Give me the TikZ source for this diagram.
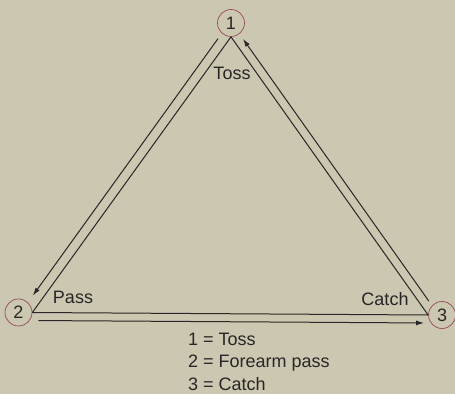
\documentclass[tikz,border=0pt]{standalone}
\usepackage{fontspec}
\setmainfont{Liberation Sans}
\usetikzlibrary{calc,arrows.meta}
\definecolor{bgc}{RGB}{204,199,177}
\definecolor{ringc}{RGB}{150,75,85}
\definecolor{inkc}{RGB}{40,38,38}
\tikzset{
  stn/.style={circle,draw=ringc,line width=0.7pt,minimum size=27pt,inner sep=0pt,text=inkc,font=\fontsize{18}{21}\selectfont},
  lbl/.style={text=inkc,font=\fontsize{18}{21}\selectfont,inner sep=0pt},
  leg/.style={text=inkc,font=\fontsize{18}{21}\selectfont,inner sep=0pt,anchor=base west},
  ln/.style={draw=inkc,line width=1pt},
  arr/.style={ln,-{Latex[length=8pt,width=5pt]}}
}
\begin{document}
\begin{tikzpicture}[x=1pt,y=1pt]
\fill[bgc] (0,0) rectangle (455,394);
\useasboundingbox (0,0) rectangle (455,394);
\node[stn] (n1) at (231,371) {1};
\node[stn] (n2) at (18.5,81.5) {2};
\node[stn] (n3) at (442,79) {3};
% inner triangle lines
\draw[ln] (n1.south) -- (n2.east);
\draw[ln] (n1.south) -- (n3.west);
\draw[ln] (n2.east) -- (n3.west);
% outer left arrow 1 -> 2
\coordinate (a1) at ($(n1.south)!9pt!(n2.east)$);
\coordinate (L1) at ($(a1)!9.5pt!-90:(n2.east)$);
\coordinate (a2) at ($(n2.east)!14pt!(n1.south)$);
\coordinate (L2) at ($(a2)!9.5pt!90:(n1.south)$);
\draw[arr] (L1) -- (L2);
% outer bottom arrow 2 -> 3
\coordinate (b1) at ($(n2.east)!6pt!(n3.west)$);
\coordinate (B1) at ($(b1)!8pt!-90:(n3.west)$);
\coordinate (b2) at ($(n3.west)!4pt!(n2.east)$);
\coordinate (B2) at ($(b2)!8pt!90:(n2.east)$);
\draw[arr] (B1) -- (B2);
% outer right arrow 3 -> 1
\coordinate (r1) at ($(n3.west)!11pt!(n1.south)$);
\coordinate (R1) at ($(r1)!8.6pt!-90:(n1.south)$);
\coordinate (r2) at ($(n1.south)!8.6pt!(n3.west)$);
\coordinate (R2) at ($(r2)!8.6pt!90:(n3.west)$);
\draw[arr] (R1) -- (R2);
% labels
\node[lbl] (tl) at (232,321) {Toss};
\node[lbl] (pl) at (73,97) {Pass};
\node[lbl] (cl) at (385,95) {Catch};
% legend
\node[leg] (k1) at (188,49) {1 = Toss};
\node[leg] (k2) at (188,26.5) {2 = Forearm pass};
\node[leg] (k3) at (188,4) {3 = Catch};
\end{tikzpicture}
\end{document}
